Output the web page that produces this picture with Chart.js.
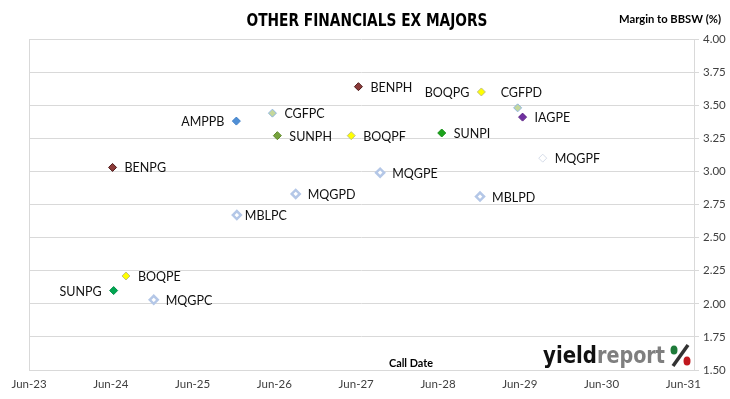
<!DOCTYPE html>
<html>
<head>
<meta charset="utf-8">
<script src="https://cdn.jsdelivr.net/npm/chart.js@4.4.1/dist/chart.umd.min.js"></script>
<style>
    html, body { margin: 0; padding: 0; background: #fff; }
</style>
</head>
<body>
<canvas id="graph-financials" width="730" height="399"></canvas>
<script>
'use strict';

// Données : titres, date de call et marge sur BBSW (%)
const securities = ['BENPG', 'SUNPG', 'BOQPE', 'MQGPC', 'AMPPB', 'MBLPC', 'CGFPC', 'SUNPH', 'MQGPD',
    'BOQPF', 'BENPH', 'MQGPE', 'SUNPI', 'MBLPD', 'BOQPG', 'CGFPD', 'IAGPE', 'MQGPF'];
const callDates = ['2024-06-08', '2024-06-13', '2024-08-07', '2024-12-09', '2025-12-13', '2025-12-15',
    '2026-05-23', '2026-06-14', '2026-09-04', '2027-05-10', '2027-06-11', '2027-09-16',
    '2028-06-17', '2028-12-05', '2028-12-11', '2029-05-22', '2029-06-13', '2029-09-11'];
const margins = [3.03, 2.10, 2.21, 2.03, 3.38, 2.67, 3.44, 3.27, 2.83,
    3.27, 3.64, 2.99, 3.29, 2.81, 3.60, 3.48, 3.41, 3.10];
const tickLabels = ['Jun-23', 'Jun-24', 'Jun-25', 'Jun-26', 'Jun-27', 'Jun-28', 'Jun-29', 'Jun-30', 'Jun-31'];

// Couleurs des marqueurs par titre
const fillColors = {
    BENPG: '#8B3A38', BENPH: '#8B3A38', AMPPB: '#4F8FD6', CGFPC: '#C4D79B', CGFPD: '#C4D79B',
    SUNPG: '#00A651', SUNPH: '#76A23C', SUNPI: '#1BA31B', BOQPE: '#FFFF00', BOQPF: '#FFFF00',
    BOQPG: '#FFFF00', IAGPE: '#7030A0'
};
const borderColors = {
    BENPG: '#4D1B1A', BENPH: '#4D1B1A', AMPPB: '#3F7FC6', CGFPC: '#8DB4E2', CGFPD: '#8DB4E2',
    SUNPG: '#00904A', SUNPH: '#5F8A2C', SUNPI: '#168F16', BOQPE: '#BFBF80', BOQPF: '#BFBF80',
    BOQPG: '#BFBF80', IAGPE: '#5C2585', MQGPF: '#D5DCE8'
};
// Étiquettes placées à gauche ou décalées
const labelLeft = ['AMPPB', 'SUNPG', 'BOQPG'];
const labelShift = { MBLPC: [8, 0], CGFPD: [-17, -16] };

const FONT = 'Lato, "Open Sans", sans-serif';
const HEAVY = '"DejaVu Sans", sans-serif';
const baseDate = Date.UTC(2023, 5, 1);
function yearsSinceJun23(s) {
    const [y, m, d] = s.split('-').map(Number);
    return (Date.UTC(y, m - 1, d) - baseDate) / (365.25 * 86400000);
}

const points = securities.map((name, i) => ({ x: yearsSinceJun23(callDates[i]), y: margins[i] }));

// Texte compressé horizontalement pour tenir dans une largeur donnée
function fitText(ctx, text, x, y, width, align) {
    const w = ctx.measureText(text).width;
    ctx.save();
    ctx.translate(x, y);
    ctx.scale(width / w, 1);
    ctx.textAlign = align;
    ctx.fillText(text, 0, 0);
    ctx.restore();
}

const textPlugin = {
    id: 'textPlugin',
    afterDatasetsDraw(chart) {
        const ctx = chart.ctx;
        ctx.save();
        ctx.textBaseline = 'alphabetic';
        ctx.fillStyle = '#000';

        ctx.font = 'bold 17px ' + HEAVY;
        fitText(ctx, 'OTHER FINANCIALS EX MAJORS', 367, 26, 241, 'center');

        ctx.font = 'bold 11px ' + FONT;
        fitText(ctx, 'Margin to BBSW (%)', 721, 23, 102, 'right');

        ctx.font = 'bold 12px ' + FONT;
        fitText(ctx, 'Call Date', 411, 367, 44, 'center');

        // logo yieldreport
        ctx.font = 'bold 23px ' + HEAVY;
        ctx.fillStyle = '#111';
        fitText(ctx, 'yield', 543, 363, 54, 'left');
        ctx.fillStyle = '#7F7F7F';
        fitText(ctx, 'report', 597, 363, 68, 'left');
        ctx.strokeStyle = '#333';
        ctx.lineWidth = 3.5;
        ctx.beginPath();
        ctx.moveTo(688, 345);
        ctx.lineTo(673, 366);
        ctx.stroke();
        ctx.fillStyle = '#1E7B3A';
        ctx.beginPath();
        ctx.ellipse(674, 350, 3.5, 4.5, 0, 0, Math.PI * 2);
        ctx.fill();
        ctx.fillStyle = '#C0181E';
        ctx.beginPath();
        ctx.ellipse(687, 361, 3.5, 4.5, 0, 0, Math.PI * 2);
        ctx.fill();

        // étiquettes des points
        ctx.font = '12.5px ' + FONT;
        ctx.fillStyle = '#111';
        ctx.textBaseline = 'middle';
        const meta = chart.getDatasetMeta(0);
        securities.forEach((name, i) => {
            const el = meta.data[i];
            const shift = labelShift[name];
            if (labelLeft.includes(name)) {
                ctx.textAlign = 'right';
                ctx.fillText(name, el.x - 12, el.y + 1);
            } else if (shift) {
                ctx.textAlign = 'left';
                ctx.fillText(name, el.x + shift[0], el.y + shift[1] + 1);
            } else {
                ctx.textAlign = 'left';
                ctx.fillText(name, el.x + 12, el.y + 1);
            }
        });
        ctx.restore();
    }
};

const ctx = document.getElementById('graph-financials').getContext('2d');
new Chart(ctx, {
    type: 'scatter',
    data: {
        datasets: [{
            label: 'Margin to BBSW',
            data: points,
            pointStyle: 'rectRot',
            pointRadius: 4,
            pointHoverRadius: 4,
            pointBackgroundColor: securities.map(n => fillColors[n] || '#FFFFFF'),
            pointBorderColor: securities.map(n => borderColors[n] || '#B4C7E7'),
            pointBorderWidth: securities.map(n => (fillColors[n] || n === 'MQGPF') ? 1 : 2.5)
        }]
    },
    options: {
        responsive: false,
        animation: false,
        devicePixelRatio: 1,
        layout: { padding: { left: 29, top: 39, right: 0, bottom: 0 } },
        plugins: {
            legend: { display: false },
            tooltip: { enabled: false }
        },
        scales: {
            x: {
                type: 'linear',
                min: 0,
                max: 8.13,
                afterBuildTicks: axis => { axis.ticks = tickLabels.map((_, i) => ({ value: i })); },
                afterFit: scale => { scale.height = 29; },
                ticks: {
                    autoSkip: false,
                    maxRotation: 0,
                    padding: 7,
                    color: '#404040',
                    font: { family: FONT, size: 11.5 },
                    callback: v => tickLabels[Math.round(v)]
                },
                grid: {
                    drawTicks: false,
                    color: c => (c.tick && c.tick.value === 0) ? '#D9D9D9' : 'rgba(0,0,0,0)'
                },
                border: { color: '#D9D9D9' }
            },
            y: {
                position: 'right',
                min: 1.5,
                max: 4,
                afterFit: scale => { scale.width = 36; },
                ticks: {
                    stepSize: 0.25,
                    padding: 4,
                    color: '#404040',
                    font: { family: FONT, size: 11.5 },
                    callback: v => v.toFixed(2)
                },
                grid: { color: '#D9D9D9', tickLength: 5 },
                border: { color: '#D9D9D9' }
            }
        }
    },
    plugins: [textPlugin]
});
</script>
</body>
</html>
